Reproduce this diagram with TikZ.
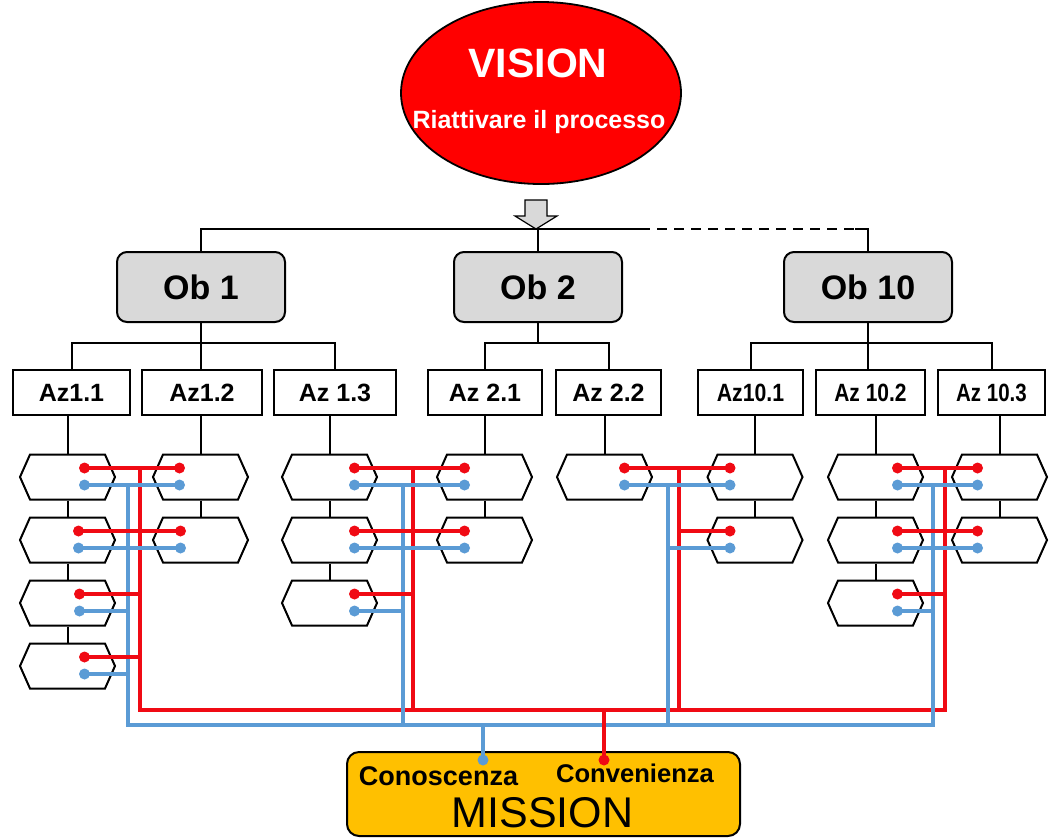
\documentclass[tikz,border=0pt]{standalone}
\usepackage{fontspec}
\setmainfont{Liberation Sans}
\usepackage{graphicx}
\usetikzlibrary{shapes,arrows,positioning,calc,fit}

\definecolor{visionred}{RGB}{255,0,0}
\definecolor{linkred}{RGB}{240,10,20}
\definecolor{linkblue}{RGB}{91,155,213}
\definecolor{obgray}{RGB}{217,217,217}
\definecolor{missionyellow}{RGB}{255,192,0}

\tikzset{
  link/.style={line width=1pt},
  obbox/.style={draw, line width=1pt, rounded corners=5pt, fill=obgray, minimum width=84pt, minimum height=35pt, font=\fontsize{17}{20}\selectfont\bfseries},
  azbox/.style={draw, line width=1pt, minimum height=22.5pt, inner sep=0pt, font=\fontsize{12.5}{15}\selectfont\bfseries},
  hexbox/.style={draw, line width=1pt, signal, signal to=west and east, signal pointer angle=132, minimum width=47.5pt, minimum height=22.5pt, inner sep=0pt},
  redlink/.style={draw=linkred, line width=2.2pt},
  bluelink/.style={draw=linkblue, line width=2.2pt},
  reddot/.style={circle, fill=linkred, inner sep=0pt, minimum size=5.5pt},
  bluedot/.style={circle, fill=linkblue, inner sep=0pt, minimum size=5.5pt},
}

\begin{document}
\begin{tikzpicture}[x=0.5pt, y=-0.5pt]
    \useasboundingbox (0,0) rectangle (1049,837);

    % Vision
    \node[ellipse, draw, line width=0.9pt, fill=visionred, minimum width=140pt, minimum height=91pt, inner sep=0pt] (vision) at (541,93) {};
    \node[anchor=base, text=white, font=\fontsize{20.5}{24}\selectfont\bfseries] (visiontitle) at (538,77) {VISION};
    \node[anchor=base, text=white, font=\fontsize{12.5}{15}\selectfont\bfseries] (visiontext) at (539,128) {Riattivare il processo};

    % Arrow
    \draw[fill=obgray, line width=0.6pt] (525,200) -- (547,200) -- (547,216) -- (557,216) -- (536,229) -- (515,216) -- (525,216) -- cycle;

    % Objectives
    \node[obbox] (ob1) at (201,287) {Ob 1};
    \node[obbox] (ob2) at (538,287) {Ob 2};
    \node[obbox] (ob10) at (868,287) {Ob 10};

    % Top line
    \coordinate (dashA) at (640,229);
    \coordinate (dashB) at (855,229);
    \draw[link] (ob1.north) |- (dashA);
    \draw[link] (ob2.north) -- (ob2.north |- dashA);
    \draw[link, dash pattern=on 5pt off 3.5pt] (dashA) -- (dashB);
    \draw[link] (dashB) -| (ob10.north);

    % Actions
    \node[azbox, minimum width=58.5pt] (az11) at (71.5,392.5) {Az1.1};
    \node[azbox, minimum width=60pt] (az12) at (202,392.5) {Az1.2};
    \node[azbox, minimum width=61pt] (az13) at (335,392.5) {Az 1.3};
    \node[azbox, minimum width=57pt] (az21) at (485,392.5) {Az 2.1};
    \node[azbox, minimum width=52.5pt] (az22) at (608.5,392.5) {Az 2.2};
    \node[azbox, minimum width=52.5pt] (az101) at (750.5,392.5) {\scalebox{0.85}[1]{Az10.1}};
    \node[azbox, minimum width=54.5pt] (az102) at (870.5,392.5) {\scalebox{0.84}[1]{Az 10.2}};
    \node[azbox, minimum width=53.5pt] (az103) at (991.5,392.5) {\scalebox{0.82}[1]{Az 10.3}};

    % Objectives to actions
    \draw[link] (ob1.south) -- (ob1.south |- az12.north);
    \draw[link] (az11.north) |- ($(ob1.south)+(0,20)$) -| (az13.north);
    \draw[link] (ob2.south) -- ++(0,20) coordinate (ob2bar);
    \draw[link] (az21.north) |- (ob2bar) -| (az22.north);
    \draw[link] (ob10.south) -- (ob10.south |- az102.north);
    \draw[link] (az101.north) |- ($(ob10.south)+(0,20)$) -| (az103.north);

    % Hexagons
    \foreach \col/\x/\n in {a/67.5/4, b/200.5/2, c/329.5/3, d/484.5/2, e/604.5/1, f/755/2, g/875.5/3, h/999.5/2}
      \foreach \r in {1,...,\n}
        \node[hexbox] (h\col\r) at (\x,{414+63*\r}) {};

    \foreach \az/\col in {az11/a, az12/b, az13/c, az21/d, az22/e, az101/f, az102/g, az103/h}
      \draw[link] (\az.south -| h\col1.north) -- (h\col1.north);
    \foreach \u/\v in {a1/a2, a2/a3, a3/a4, b1/b2, c1/c2, c2/c3, d1/d2, f1/f2, g1/g2, g2/g3, h1/h2}
      \draw[link] (h\u.south) -- (h\v.north);

    % Dots
    \foreach \h/\dx in {a1/17, a2/11, a3/12, a4/17, b1/-21, b2/-20, c1/25, c2/25, c3/25, d1/-20, d2/-20, e1/20, f1/-25, f2/-25, g1/22, g2/22, g3/22, h1/-22, h2/-22} {
      \node[reddot] (r\h) at ($(h\h)+(\dx,-9)$) {};
      \node[bluedot] (b\h) at ($(h\h)+(\dx,8)$) {};
    }

    % Rails
    \coordinate (redrail1) at (140,710);
    \coordinate (redrail2) at (413,710);
    \coordinate (redrail3) at (679,710);
    \coordinate (redrail4) at (945,710);
    \coordinate (bluerail1) at (128,725);
    \coordinate (bluerail2) at (403,725);
    \coordinate (bluerail3) at (668,725);
    \coordinate (bluerail4) at (933,725);

    \draw[redlink] (ra1 -| redrail1) -- (redrail1) -- (redrail4) -- (rg1 -| redrail4);
    \draw[redlink] (rc1 -| redrail2) -- (redrail2);
    \draw[redlink] (re1 -| redrail3) -- (redrail3);
    \draw[bluelink] (ba1 -| bluerail1) -- (bluerail1) -- (bluerail4) -- (bg1 -| bluerail4);
    \draw[bluelink] (bc1 -| bluerail2) -- (bluerail2);
    \draw[bluelink] (be1 -| bluerail3) -- (bluerail3);

    % Links between hexagons
    \foreach \u/\v in {a1/b1, a2/b2, c1/d1, c2/d2, e1/f1, g1/h1, g2/h2} {
      \draw[redlink] (r\u.center) -- (r\v.center);
      \draw[bluelink] (b\u.center) -- (b\v.center);
    }
    \foreach \u/\g in {a3/1, a4/1, c3/2, g3/4} {
      \draw[redlink] (r\u.center) -- (r\u -| redrail\g);
      \draw[bluelink] (b\u.center) -- (b\u -| bluerail\g);
    }
    \draw[redlink] (rf2 -| redrail3) -- (rf2.center);
    \draw[bluelink] (bf2 -| bluerail3) -- (bf2.center);

    % Mission
    \node[draw, line width=1pt, rounded corners=6pt, fill=missionyellow, minimum width=196.5pt, minimum height=42pt] (mission) at (543.5,794) {};
    \node[anchor=base, font=\fontsize{13.5}{16}\selectfont\bfseries] (conoscenza) at (438.5,785) {Conoscenza};
    \node[anchor=base, font=\fontsize{12.8}{15}\selectfont\bfseries] (convenienza) at (635,782) {Convenienza};
    \node[anchor=base, font=\fontsize{21.5}{26}\selectfont] (missiontext) at (542.5,827) {MISSION};

    \node[bluedot] (kdot) at (483,760) {};
    \node[reddot] (cdot) at (604,760) {};
    \draw[bluelink] (kdot.center) -- (kdot |- bluerail1);
    \draw[redlink] (cdot.center) -- (cdot |- redrail1);
\end{tikzpicture}
\end{document}
